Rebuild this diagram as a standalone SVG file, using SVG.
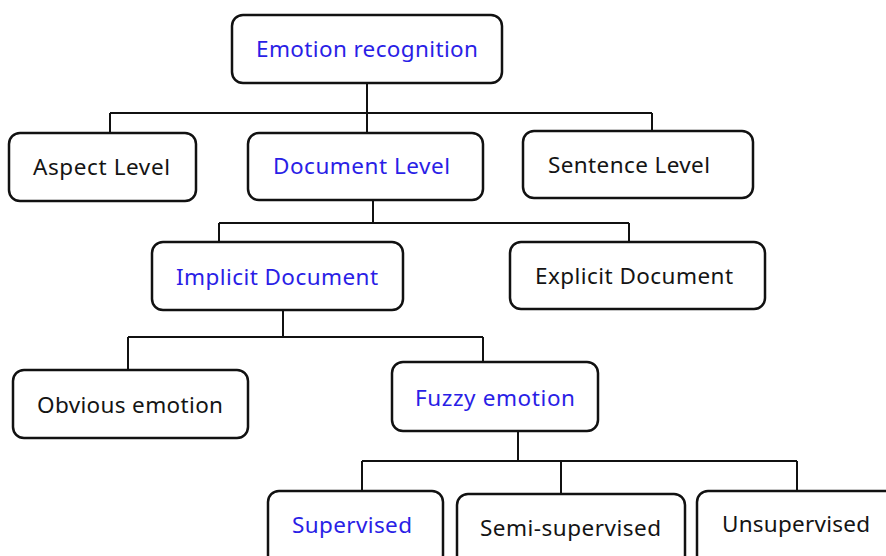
<svg xmlns="http://www.w3.org/2000/svg" width="886" height="556" viewBox="0 0 886 556">
<style>
.box{fill:#fff;stroke:#111;stroke-width:2.5}
.t{font-family:"Noto Sans","Open Sans","Liberation Sans",sans-serif;font-size:22.5px;fill:#141414}
.b{fill:#2a1ee6}
.c{fill:none;stroke:#111;stroke-width:2}
</style>
<rect width="886" height="556" fill="#fff"/>
<g id="connectors">
<path class="c" d="M367 83V113M110 113H652M110 113V133M367 113V133M652 113V131"/>
<path class="c" d="M373 200V223M219 223H629M219 223V242M629 223V242"/>
<path class="c" d="M283 310V337M128 337H483M128 337V370M483 337V362"/>
<path class="c" d="M518 431V461M362 461H797M362 461V491M561 461V494M797 461V491"/>
</g>
<g id="n-emotion"><rect class="box" x="232" y="15" width="270" height="68" rx="11"/><text class="t b" x="256" y="57" textLength="222">Emotion recognition</text></g>
<g id="n-aspect"><rect class="box" x="9" y="133" width="187" height="68" rx="11"/><text class="t" x="33" y="175" textLength="137">Aspect Level</text></g>
<g id="n-document"><rect class="box" x="248" y="133" width="235" height="67" rx="11"/><text class="t b" x="273" y="174" textLength="177">Document Level</text></g>
<g id="n-sentence"><rect class="box" x="523" y="131" width="230" height="67" rx="11"/><text class="t" x="548" y="173" textLength="162">Sentence Level</text></g>
<g id="n-implicit"><rect class="box" x="152" y="242" width="251" height="68" rx="11"/><text class="t b" x="176" y="285" textLength="202">Implicit Document</text></g>
<g id="n-explicit"><rect class="box" x="510" y="242" width="255" height="67" rx="11"/><text class="t" x="535" y="284" textLength="198">Explicit Document</text></g>
<g id="n-obvious"><rect class="box" x="13" y="370" width="235" height="68" rx="11"/><text class="t" x="37" y="413" textLength="186">Obvious emotion</text></g>
<g id="n-fuzzy"><rect class="box" x="392" y="362" width="206" height="69" rx="11"/><text class="t b" x="415" y="406" textLength="160">Fuzzy emotion</text></g>
<g id="n-supervised"><rect class="box" x="268" y="491" width="175" height="75" rx="11"/><text class="t b" x="292" y="533" textLength="120">Supervised</text></g>
<g id="n-semi"><rect class="box" x="457" y="494" width="228" height="75" rx="11"/><text class="t" x="480" y="536" textLength="181">Semi-supervised</text></g>
<g id="n-unsupervised"><rect class="box" x="697" y="491" width="205" height="75" rx="11"/><text class="t" x="722" y="532" textLength="148">Unsupervised</text></g>
</svg>
